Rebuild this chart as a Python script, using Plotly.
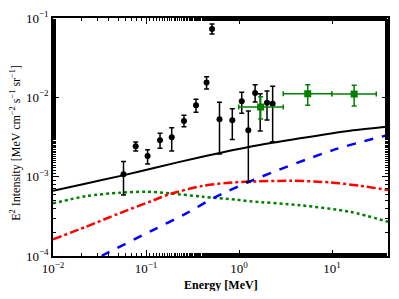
import plotly.graph_objects as go

# Data points (black circles)
pt_e = [0.0573, 0.0775, 0.104, 0.1415, 0.189, 0.256, 0.345, 0.448, 0.513, 0.617,
        0.847, 1.07, 1.26, 1.49, 1.69, 2.0, 2.30]
pt_v = [1.07e-3, 2.41e-3, 1.82e-3, 2.87e-3, 3.13e-3, 5.02e-3, 7.93e-3, 1.54e-2, 7.26e-2, 5.28e-3,
        5.13e-3, 8.91e-3, 3.84e-3, 1.13e-2, 7.48e-3, 8.55e-3, 8.30e-3]
pt_hi = [1.55e-3, 2.73e-3, 2.18e-3, 3.52e-3, 4.14e-3, 5.93e-3, 9.44e-3, 1.82e-2, 8.40e-2, 8.65e-3,
         7.18e-3, 1.16e-2, 6.71e-3, 1.44e-2, 1.11e-2, 1.20e-2, 1.38e-2]
pt_lo = [5.86e-4, 2.10e-3, 1.44e-3, 2.28e-3, 2.10e-3, 4.26e-3, 6.47e-3, 1.27e-2, 6.28e-2, 1.93e-3,
         2.95e-3, 6.28e-3, 8.55e-4, 8.73e-3, 3.76e-3, 5.18e-3, 2.75e-3]

# Green squares
sq_e = [1.71, 5.48, 17.3]
sq_elo = [0.993, 2.99, 9.93]
sq_ehi = [2.99, 9.93, 29.9]
sq_v = [7.55e-3, 1.11e-2, 1.10e-2]
sq_hi = [1.02e-2, 1.44e-2, 1.42e-2]
sq_lo = [5.32e-3, 7.92e-3, 7.77e-3]

# Model curves (log10 E, log10 value)
tot_x = [-2.0, -1.642, -1.283, -0.925, -0.419, 0.118, 0.656, 1.194, 1.602]
tot_y = [-3.178, -3.085, -2.993, -2.893, -2.755, -2.623, -2.517, -2.421, -2.371]
red_x = [-2.0, -1.642, -1.283, -0.925, -0.745, -0.387, -0.032, 0.115, 0.548, 0.978, 1.301, 1.602]
red_y = [-3.791, -3.630, -3.460, -3.300, -3.220, -3.115, -3.070, -3.062, -3.052, -3.072, -3.115, -3.169]
grn_x = [-2.0, -1.642, -1.283, -1.0, -0.745, -0.387, -0.032, 0.118, 0.656, 1.194, 1.602]
grn_y = [-3.337, -3.245, -3.203, -3.190, -3.211, -3.253, -3.290, -3.310, -3.360, -3.443, -3.569]
blu_x = [-2.0, -1.462, -0.925, -0.567, -0.280, 0.151, 1.011, 1.602]
blu_y = [-4.30, -3.989, -3.673, -3.463, -3.274, -3.043, -2.665, -2.475]

xticks = [0.01, 0.1, 1, 10]
xtext = ["10<sup>−2</sup>", "10<sup>−1</sup>", "10<sup>0</sup>", "10<sup>1</sup>"]
yticks = [1e-4, 1e-3, 1e-2, 1e-1]
ytext = ["10<sup>−4</sup>", "10<sup>−3</sup>", "10<sup>−2</sup>", "10<sup>−1</sup>"]

fig = go.Figure()

def curve(xs, ys, color, dash, width):
    fig.add_trace(go.Scatter(
        x=[10 ** v for v in xs], y=[10 ** v for v in ys], mode="lines",
        line=dict(color=color, dash=dash, width=width, shape="spline", smoothing=0.8),
        showlegend=False, hoverinfo="skip"))

curve(grn_x, grn_y, "green", "dot", 2.5)
curve(red_x, red_y, "red", "dashdot", 2.5)
curve(blu_x, blu_y, "blue", "dash", 2.5)
curve(tot_x, tot_y, "black", "solid", 2)

fig.add_trace(go.Scatter(
    x=pt_e, y=pt_v, mode="markers",
    marker=dict(color="black", size=6, symbol="circle"),
    error_y=dict(type="data", symmetric=False,
                 array=[h - v for h, v in zip(pt_hi, pt_v)],
                 arrayminus=[v - l for l, v in zip(pt_lo, pt_v)],
                 color="black", thickness=1.5, width=2.5),
    showlegend=False))

fig.add_trace(go.Scatter(
    x=sq_e, y=sq_v, mode="markers",
    marker=dict(color="green", size=7, symbol="square"),
    error_y=dict(type="data", symmetric=False,
                 array=[h - v for h, v in zip(sq_hi, sq_v)],
                 arrayminus=[v - l for l, v in zip(sq_lo, sq_v)],
                 color="green", thickness=1.5, width=2.5),
    error_x=dict(type="data", symmetric=False,
                 array=[h - v for h, v in zip(sq_ehi, sq_e)],
                 arrayminus=[v - l for l, v in zip(sq_elo, sq_e)],
                 color="green", thickness=1.5, width=2.5),
    showlegend=False))

font = "Liberation Serif, Times New Roman, DejaVu Serif, serif"
common = dict(ticks="inside", ticklen=6, tickwidth=1, tickcolor="black",
              minor=dict(ticks="inside", ticklen=3, tickcolor="black", showgrid=False),
              showline=True, linecolor="black", linewidth=1.5, mirror="ticks",
              showgrid=False, zeroline=False, automargin=False,
              tickfont=dict(family=font, size=13, color="black"))
fig.update_xaxes(type="log", range=[-2, 1.602], tickvals=xticks, ticktext=xtext, **common)
fig.update_yaxes(type="log", range=[-4, -1], tickvals=yticks, ticktext=ytext, **common)

fig.add_annotation(text="<b>Energy [MeV]</b>", xref="paper", yref="paper", x=0.5, y=-0.084,
                   xanchor="center", yanchor="top", showarrow=False,
                   font=dict(family=font, size=12, color="black"))
fig.add_annotation(text="E<sup>2</sup> Intensity [MeV cm<sup>−2</sup> s<sup>−1</sup> sr<sup>−1</sup>]",
                   xref="paper", yref="paper", x=-0.111, y=0.475, textangle=-90,
                   xanchor="center", yanchor="middle", showarrow=False,
                   font=dict(family=font, size=12, color="black"))

fig.update_layout(width=383, height=283, margin=dict(l=45, r=3, t=10, b=35),
                  paper_bgcolor="white", plot_bgcolor="white")

fig.write_html("out.html")
